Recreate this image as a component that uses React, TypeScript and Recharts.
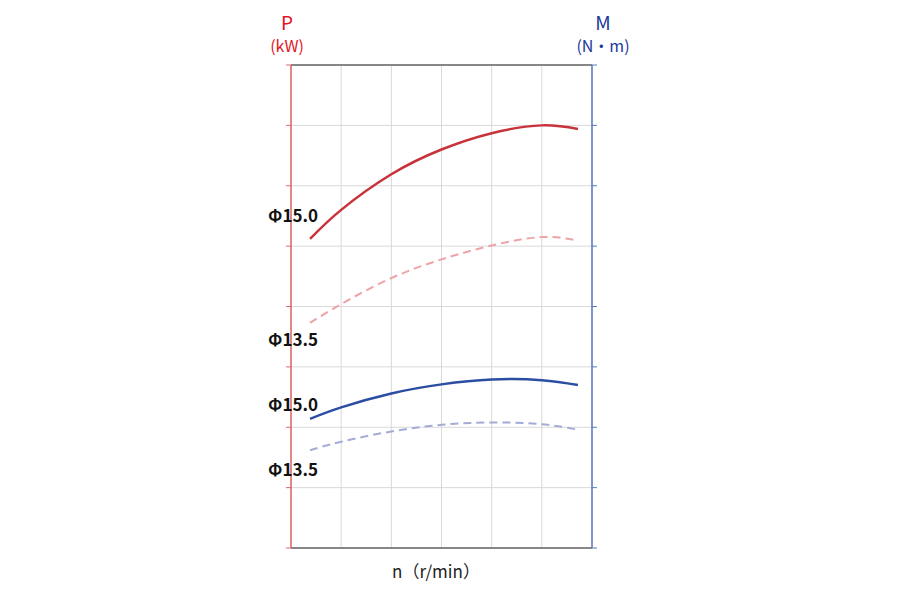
import { LineChart, Line, XAxis, YAxis, CartesianGrid, ReferenceLine } from 'recharts';

// speed positions (grid columns) and curve values (grid rows, 0 = bottom)
const speeds = [0.38, 1, 2, 3, 4, 5, 5.72];
const powerD150 = [5.12, 5.6, 6.19, 6.6, 6.87, 7.0, 6.94];
const powerD135 = [3.73, 4.04, 4.47, 4.78, 5.01, 5.15, 5.09];
const torqueD150 = [2.14, 2.33, 2.56, 2.71, 2.79, 2.78, 2.7];
const torqueD135 = [1.62, 1.76, 1.93, 2.04, 2.08, 2.05, 1.96];
const xTicks = [0, 1, 2, 3, 4, 5, 6];
const yTicks = [0, 1, 2, 3, 4, 5, 6, 7, 8];
const curveLabels = [
  { text: 'Φ15.0', y: 214 },
  { text: 'Φ13.5', y: 338 },
  { text: 'Φ15.0', y: 403 },
  { text: 'Φ13.5', y: 468 },
];

const data = speeds.map((n, i) => ({
  n,
  p150: powerD150[i],
  p135: powerD135[i],
  m150: torqueD150[i],
  m135: torqueD135[i],
}));

const font = '"Noto Sans CJK JP", "Noto Sans", sans-serif';

export default function App() {
  return (
    <div style={{ position: 'fixed', left: 0, top: 0, width: 900, height: 600, background: '#fff', fontFamily: font }}>
      <LineChart width={900} height={600} data={data} margin={{ top: 65, right: 302, bottom: 51, left: 285 }}>
        <CartesianGrid yAxisId="p" stroke="#d9d9d9" strokeWidth={1} />
        <XAxis dataKey="n" type="number" domain={[0, 6]} ticks={xTicks} height={1} tickFormatter={() => ''} tickLine={false} axisLine={{ stroke: '#666', strokeWidth: 1.5 }} />
        <YAxis yAxisId="p" domain={[0, 8]} ticks={yTicks} width={6} tickFormatter={() => ''} tickSize={5} tickLine={{ stroke: '#e06666' }} axisLine={{ stroke: '#e06666', strokeWidth: 1.5 }} />
        <YAxis yAxisId="m" orientation="right" domain={[0, 8]} ticks={yTicks} width={6} tickFormatter={() => ''} tickSize={5} tickLine={{ stroke: '#5a7bbf' }} axisLine={{ stroke: '#5a7bbf', strokeWidth: 1.5 }} />
        <ReferenceLine yAxisId="p" y={8} stroke="#666" strokeWidth={1.5} />
        <Line yAxisId="p" dataKey="p135" type="natural" stroke="#eea3a8" strokeWidth={2} strokeDasharray="8 5" dot={false} isAnimationActive={false} />
        <Line yAxisId="p" dataKey="p150" type="natural" stroke="#c8323a" strokeWidth={2.5} dot={false} isAnimationActive={false} />
        <Line yAxisId="m" dataKey="m135" type="natural" stroke="#a3acd6" strokeWidth={2} strokeDasharray="8 5" dot={false} isAnimationActive={false} />
        <Line yAxisId="m" dataKey="m150" type="natural" stroke="#2b4ea3" strokeWidth={2.5} dot={false} isAnimationActive={false} />
      </LineChart>
      <div style={{ position: 'absolute', left: 287, top: 21, transform: 'translate(-50%,-50%)', color: '#e0161e', fontSize: 19 }}>P</div>
      <div style={{ position: 'absolute', left: 287, top: 45, transform: 'translate(-50%,-50%)', color: '#e0161e', fontSize: 16 }}>(kW)</div>
      <div style={{ position: 'absolute', left: 603, top: 21, transform: 'translate(-50%,-50%)', color: '#1a3a9a', fontSize: 19 }}>M</div>
      <div style={{ position: 'absolute', left: 603, top: 45, transform: 'translate(-50%,-50%)', color: '#1a3a9a', fontSize: 16, whiteSpace: 'nowrap' }}>(N・m)</div>
      <div style={{ position: 'absolute', left: 436, top: 570, transform: 'translate(-50%,-50%)', color: '#222', fontSize: 17, whiteSpace: 'nowrap' }}>n（r/min）</div>
      {curveLabels.map((l, i) => (
        <div key={i} style={{ position: 'absolute', left: 293, top: l.y, transform: 'translate(-50%,-50%)', color: '#111', fontSize: 17, fontWeight: 700, whiteSpace: 'nowrap' }}>{l.text}</div>
      ))}
    </div>
  );
}
